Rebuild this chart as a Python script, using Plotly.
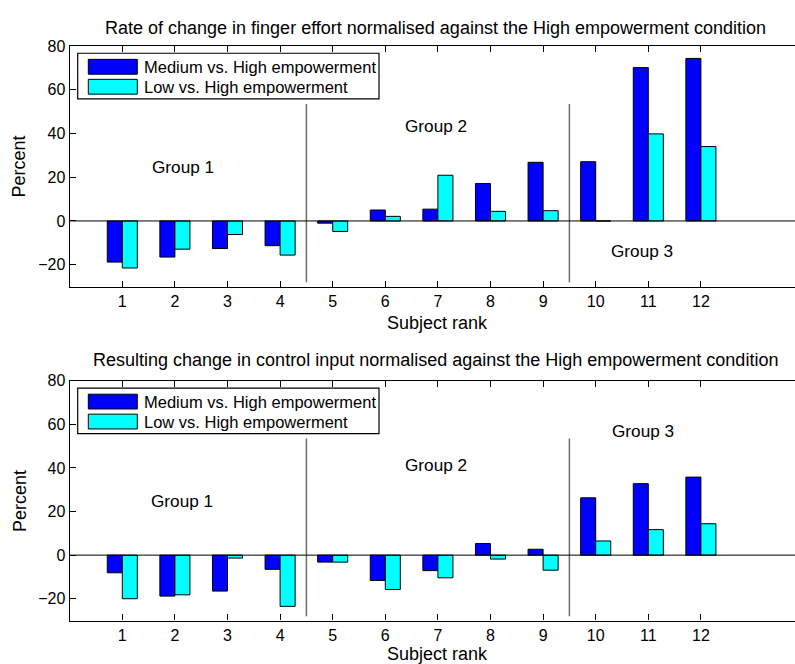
import plotly.graph_objects as go

# ---- data -----------------------------------------------------------------
subjects = list(range(1, 13))
tick_labels = [str(s) for s in subjects]

effort_medium = [-18.8, -16.5, -12.6, -11.3, -1.0, 5.0, 5.4, 17.1, 26.8, 27.1, 70.1, 74.3]
effort_low = [-21.5, -12.9, -6.2, -15.6, -4.8, 2.1, 20.9, 4.4, 4.7, 0.0, 39.8, 34.0]

control_medium = [-8.1, -18.8, -16.5, -6.5, -3.2, -11.6, -7.1, 5.3, 2.7, 26.3, 32.8, 35.8]
control_low = [-20.0, -18.2, -1.35, -23.5, -3.2, -15.8, -10.4, -1.8, -6.9, 6.5, 11.7, 14.4]

series_names = ["Medium vs. High empowerment", "Low vs. High empowerment"]
group_names = ["Group 1", "Group 2", "Group 3"]
group_bounds = [4.5, 9.5]
bound_extent = [-28, 53.5]

# label anchors (x, y) in data units for each panel
effort_group_pos = [(1.53, 24.8), (6.33, 43.2), (10.26, -13.7)]
control_group_pos = [(1.51, 24.8), (6.33, 41.3), (10.28, 56.8)]

titles = [
    "Rate of change in finger effort normalised against the High empowerment condition",
    "Resulting change in control input normalised against the High empowerment condition",
]

# ---- layout geometry -------------------------------------------------------
W, H = 795, 664
FONT = "Liberation Sans, Arial, Helvetica, sans-serif"
BLUE, CYAN = "#0000ff", "#00ffff"


def px(x):
    return x / W


def py(y):
    return (H - y) / H


panels = [
    dict(top=38.4, bottom=282.0, med=effort_medium, low=effort_low,
         groups=effort_group_pos, title=titles[0], title_y=20.0, xlabel_y=318.5),
    dict(top=377.3, bottom=620.0, med=control_medium, low=control_low,
         groups=control_group_pos, title=titles[1], title_y=356.7, xlabel_y=653.5),
]

ax_left = 69.7
unit = 52.6
x_max = (W - ax_left) / unit

fig = go.Figure()
shapes, annotations = [], []

for i, p in enumerate(panels):
    xa = "x" if i == 0 else "x2"
    ya = "y" if i == 0 else "y2"
    fig.add_trace(go.Bar(x=subjects, y=p["med"], name=series_names[0],
                         marker=dict(color=BLUE, line=dict(color="black", width=1)),
                         xaxis=xa, yaxis=ya, showlegend=False))
    fig.add_trace(go.Bar(x=subjects, y=p["low"], name=series_names[1],
                         marker=dict(color=CYAN, line=dict(color="black", width=1)),
                         xaxis=xa, yaxis=ya, showlegend=False))

    # group separators
    for b in group_bounds:
        shapes.append(dict(type="line", xref=xa, yref=ya, x0=b, x1=b,
                           y0=bound_extent[0], y1=bound_extent[1],
                           line=dict(color="#6e6e6e", width=1.5)))
    # baseline
    shapes.append(dict(type="line", xref=xa, yref=ya, x0=0, x1=x_max, y0=0, y1=0,
                       line=dict(color="black", width=1), layer="above"))

    # group labels
    for name, (gx, gy) in zip(group_names, p["groups"]):
        annotations.append(dict(text=name, xref=xa, yref=ya, x=gx, y=gy,
                                xanchor="left", yanchor="middle", showarrow=False,
                                font=dict(size=17.2, color="black", family=FONT)))

    # title, axis labels
    annotations.append(dict(text=p["title"], xref="paper", yref="paper",
                            x=px(435), y=py(p["title_y"]), xanchor="center",
                            yanchor="middle", showarrow=False,
                            font=dict(size=18, color="black", family=FONT)))
    annotations.append(dict(text="Subject rank", xref="paper", yref="paper",
                            x=px(437.8), y=py(p["xlabel_y"]), xanchor="center",
                            yanchor="middle", showarrow=False,
                            font=dict(size=18, color="black", family=FONT)))
    annotations.append(dict(text="Percent", xref="paper", yref="paper",
                            x=px(19.3), y=py((p["top"] + p["bottom"]) / 2),
                            xanchor="center", yanchor="middle", textangle=-90,
                            showarrow=False,
                            font=dict(size=18, color="black", family=FONT)))

    # legend box
    t = p["top"]
    shapes.append(dict(type="rect", xref="paper", yref="paper",
                       x0=px(77.7), x1=px(379), y0=py(t + 7.4), y1=py(t + 53.5),
                       fillcolor="white", line=dict(color="black", width=1.2)))
    for k, (name, col) in enumerate(zip(series_names, [BLUE, CYAN])):
        cy = t + 21.1 + k * 20.2
        shapes.append(dict(type="rect", xref="paper", yref="paper",
                           x0=px(88.3), x1=px(137.3), y0=py(cy + 7.5), y1=py(cy - 7.5),
                           fillcolor=col, line=dict(color="black", width=1)))
        annotations.append(dict(text=name, xref="paper", yref="paper",
                                x=px(142.0), y=py(cy), xanchor="left",
                                yanchor="middle", showarrow=False,
                                font=dict(size=16.5, color="black", family=FONT)))

axis_common = dict(showgrid=False, zeroline=False, showline=True, linecolor="black",
                   linewidth=1.2, ticks="inside", ticklen=6, tickcolor="black",
                   tickfont=dict(size=16, color="black", family=FONT))

xaxis_common = dict(axis_common, range=[0, x_max], tickvals=subjects,
                    ticktext=tick_labels, mirror="ticks", domain=[px(ax_left), 1])
yaxis_common = dict(axis_common, range=[-30, 80], tickvals=[-20, 0, 20, 40, 60, 80])

fig.update_layout(
    width=W, height=H,
    margin=dict(l=0, r=0, t=0, b=0),
    paper_bgcolor="white", plot_bgcolor="white",
    barmode="group", bargap=0.4286, bargroupgap=0,
    xaxis=dict(xaxis_common, anchor="y"),
    yaxis=dict(yaxis_common, anchor="x",
               domain=[py(panels[0]["bottom"]), py(panels[0]["top"])]),
    xaxis2=dict(xaxis_common, anchor="y2"),
    yaxis2=dict(yaxis_common, anchor="x2",
                domain=[py(panels[1]["bottom"]), py(panels[1]["top"])]),
    shapes=shapes,
    annotations=annotations,
    font=dict(family=FONT, color="black"),
)

fig.write_html("out.html")
